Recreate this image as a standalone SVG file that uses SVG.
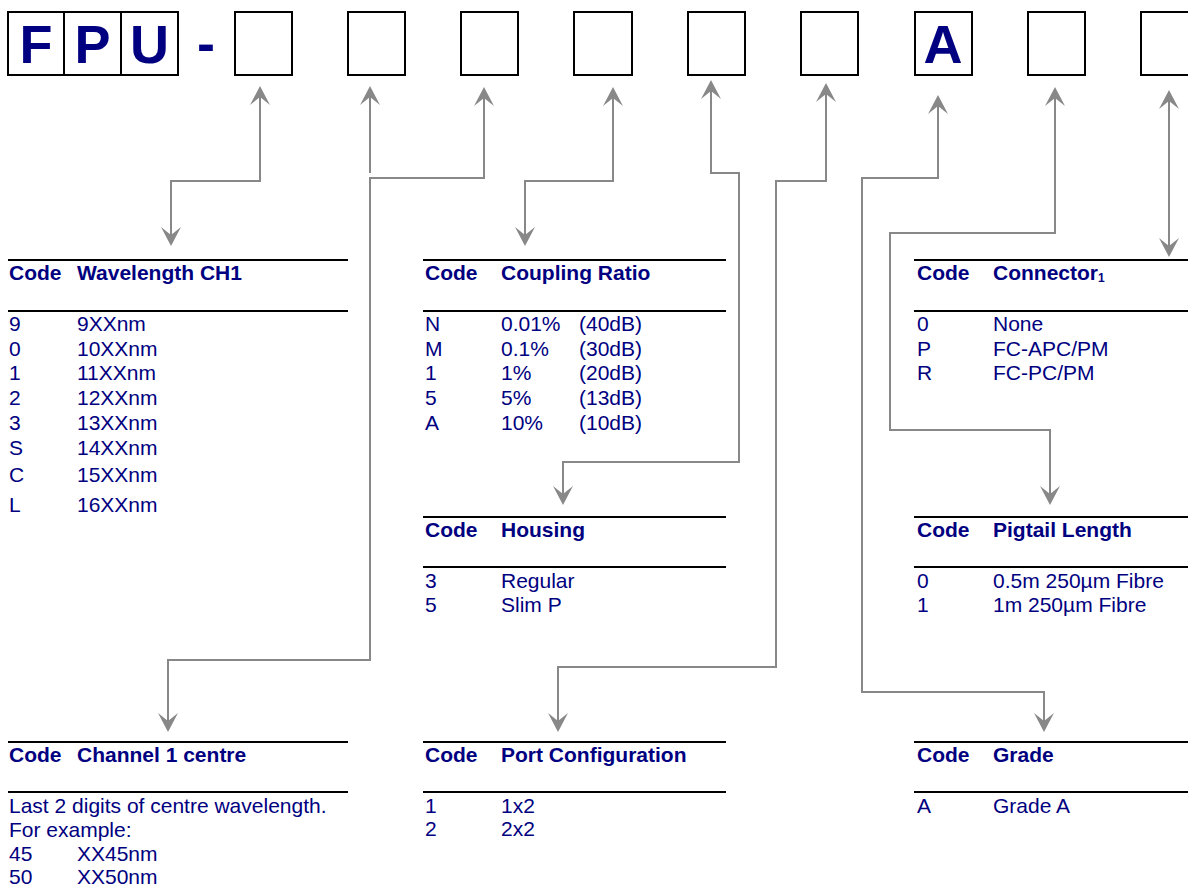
<svg xmlns="http://www.w3.org/2000/svg" width="1188" height="886" viewBox="0 0 1188 886">
<style>
.box{fill:#fff;stroke:#000;stroke-width:2}
.big{font-family:"Liberation Sans",Arial,sans-serif;font-weight:bold;font-size:54px;fill:#000080;text-anchor:middle}
.h{font-family:"Liberation Sans",Arial,sans-serif;font-weight:bold;font-size:21px;fill:#000080}
.t{font-family:"Liberation Sans",Arial,sans-serif;font-size:21px;fill:#000080}
.rule{stroke:#000;stroke-width:2}
.conn{fill:none;stroke:#888;stroke-width:2}
.both{marker-start:url(#ah);marker-end:url(#ah)}
.start{marker-start:url(#ah)}
</style>
<defs>
<marker id="ah" markerUnits="userSpaceOnUse" viewBox="-10 -11 22 22" refX="0" refY="0" markerWidth="22" markerHeight="22" orient="auto-start-reverse" overflow="visible">
<path d="M10,0 L-9,-10 L-1,0 L-9,10 Z" fill="#888"/>
</marker>
</defs>
<rect width="1188" height="886" fill="#fff"/>

<g id="code">
<g id="box-F"><rect class="box" x="8" y="12" width="56" height="63"/><text class="big" x="36" y="63">F</text></g>
<g id="box-P"><rect class="box" x="64" y="12" width="57" height="63"/><text class="big" x="92.5" y="63">P</text></g>
<g id="box-U"><rect class="box" x="121" y="12" width="57" height="63"/><text class="big" x="149.5" y="63">U</text></g>
<g id="dash"><text class="big" x="206" y="62">-</text></g>
<g id="box-1"><rect class="box" x="235" y="12" width="57" height="63"/></g>
<g id="box-2"><rect class="box" x="348" y="12" width="57" height="63"/></g>
<g id="box-3"><rect class="box" x="461" y="12" width="57" height="63"/></g>
<g id="box-4"><rect class="box" x="574" y="12" width="58" height="63"/></g>
<g id="box-5"><rect class="box" x="688" y="12" width="57" height="63"/></g>
<g id="box-6"><rect class="box" x="801" y="12" width="57" height="63"/></g>
<g id="box-A"><rect class="box" x="915" y="12" width="57" height="63"/><text class="big" x="943" y="63">A</text></g>
<g id="box-8"><rect class="box" x="1028" y="12" width="57" height="63"/></g>
<g id="box-9"><rect class="box" x="1141" y="12" width="57" height="63"/></g>
</g>

<g id="connectors">
<path class="conn both" d="M260,96 L260,181 L171,181 L171,236"/>
<path class="conn start" d="M370,96 L370,173"/>
<path class="conn both" d="M484,97 L484,178 L370,178 L370,660 L168,660 L168,722"/>
<path class="conn both" d="M613,97 L613,181 L525,181 L525,236"/>
<path class="conn both" d="M711,90 L711,173 L739,173 L739,462 L563,462 L563,495"/>
<path class="conn both" d="M826,93 L826,181 L776,181 L776,667 L558,667 L558,722"/>
<path class="conn both" d="M938,105 L938,178 L862,178 L862,692 L1044,692 L1044,722"/>
<path class="conn both" d="M1055,97 L1055,233 L890,233 L890,430 L1050,430 L1050,495"/>
<path class="conn both" d="M1169,100 L1169,247"/>
</g>

<g id="table-wavelength">
<line class="rule" x1="8" y1="260" x2="348" y2="260"/>
<line class="rule" x1="8" y1="311" x2="348" y2="311"/>
<text class="h" x="9" y="280">Code</text><text class="h" x="77" y="280">Wavelength CH1</text>
<text class="t" x="9" y="331">9</text><text class="t" x="77" y="331">9XXnm</text>
<text class="t" x="9" y="356">0</text><text class="t" x="77" y="356">10XXnm</text>
<text class="t" x="9" y="380">1</text><text class="t" x="77" y="380">11XXnm</text>
<text class="t" x="9" y="405">2</text><text class="t" x="77" y="405">12XXnm</text>
<text class="t" x="9" y="430">3</text><text class="t" x="77" y="430">13XXnm</text>
<text class="t" x="9" y="455">S</text><text class="t" x="77" y="455">14XXnm</text>
<text class="t" x="9" y="482">C</text><text class="t" x="77" y="482">15XXnm</text>
<text class="t" x="9" y="512">L</text><text class="t" x="77" y="512">16XXnm</text>
</g>

<g id="table-coupling">
<line class="rule" x1="423" y1="260" x2="726" y2="260"/>
<line class="rule" x1="423" y1="311" x2="726" y2="311"/>
<text class="h" x="425" y="280">Code</text><text class="h" x="501" y="280">Coupling Ratio</text>
<text class="t" x="425" y="331">N</text><text class="t" x="501" y="331">0.01%</text><text class="t" x="579" y="331">(40dB)</text>
<text class="t" x="425" y="356">M</text><text class="t" x="501" y="356">0.1%</text><text class="t" x="579" y="356">(30dB)</text>
<text class="t" x="425" y="380">1</text><text class="t" x="501" y="380">1%</text><text class="t" x="579" y="380">(20dB)</text>
<text class="t" x="425" y="405">5</text><text class="t" x="501" y="405">5%</text><text class="t" x="579" y="405">(13dB)</text>
<text class="t" x="425" y="430">A</text><text class="t" x="501" y="430">10%</text><text class="t" x="579" y="430">(10dB)</text>
</g>

<g id="table-connector">
<line class="rule" x1="914" y1="260" x2="1188" y2="260"/>
<line class="rule" x1="914" y1="311" x2="1188" y2="311"/>
<text class="h" x="917" y="280">Code</text><text class="h" x="993" y="280">Connector<tspan font-size="12" dy="2">1</tspan></text>
<text class="t" x="917" y="331">0</text><text class="t" x="993" y="331">None</text>
<text class="t" x="917" y="356">P</text><text class="t" x="993" y="356">FC-APC/PM</text>
<text class="t" x="917" y="380">R</text><text class="t" x="993" y="380">FC-PC/PM</text>
</g>

<g id="table-housing">
<line class="rule" x1="423" y1="517" x2="726" y2="517"/>
<line class="rule" x1="423" y1="567" x2="726" y2="567"/>
<text class="h" x="425" y="537">Code</text><text class="h" x="501" y="537">Housing</text>
<text class="t" x="425" y="588">3</text><text class="t" x="501" y="588">Regular</text>
<text class="t" x="425" y="612">5</text><text class="t" x="501" y="612">Slim P</text>
</g>

<g id="table-pigtail">
<line class="rule" x1="914" y1="517" x2="1188" y2="517"/>
<line class="rule" x1="914" y1="567" x2="1188" y2="567"/>
<text class="h" x="917" y="537">Code</text><text class="h" x="993" y="537">Pigtail Length</text>
<text class="t" x="917" y="588">0</text><text class="t" x="993" y="588">0.5m 250µm Fibre</text>
<text class="t" x="917" y="612">1</text><text class="t" x="993" y="612">1m 250µm Fibre</text>
</g>

<g id="table-channel">
<line class="rule" x1="8" y1="742" x2="348" y2="742"/>
<line class="rule" x1="8" y1="792" x2="348" y2="792"/>
<text class="h" x="9" y="762">Code</text><text class="h" x="77" y="762">Channel 1 centre</text>
<text class="t" x="9" y="813">Last 2 digits of centre wavelength.</text>
<text class="t" x="9" y="837">For example:</text>
<text class="t" x="9" y="861">45</text><text class="t" x="77" y="861">XX45nm</text>
<text class="t" x="9" y="884">50</text><text class="t" x="77" y="884">XX50nm</text>
</g>

<g id="table-port">
<line class="rule" x1="423" y1="742" x2="726" y2="742"/>
<line class="rule" x1="423" y1="792" x2="726" y2="792"/>
<text class="h" x="425" y="762">Code</text><text class="h" x="501" y="762">Port Configuration</text>
<text class="t" x="425" y="813">1</text><text class="t" x="501" y="813">1x2</text>
<text class="t" x="425" y="836">2</text><text class="t" x="501" y="836">2x2</text>
</g>

<g id="table-grade">
<line class="rule" x1="914" y1="742" x2="1188" y2="742"/>
<line class="rule" x1="914" y1="792" x2="1188" y2="792"/>
<text class="h" x="917" y="762">Code</text><text class="h" x="993" y="762">Grade</text>
<text class="t" x="917" y="813">A</text><text class="t" x="993" y="813">Grade A</text>
</g>
</svg>
